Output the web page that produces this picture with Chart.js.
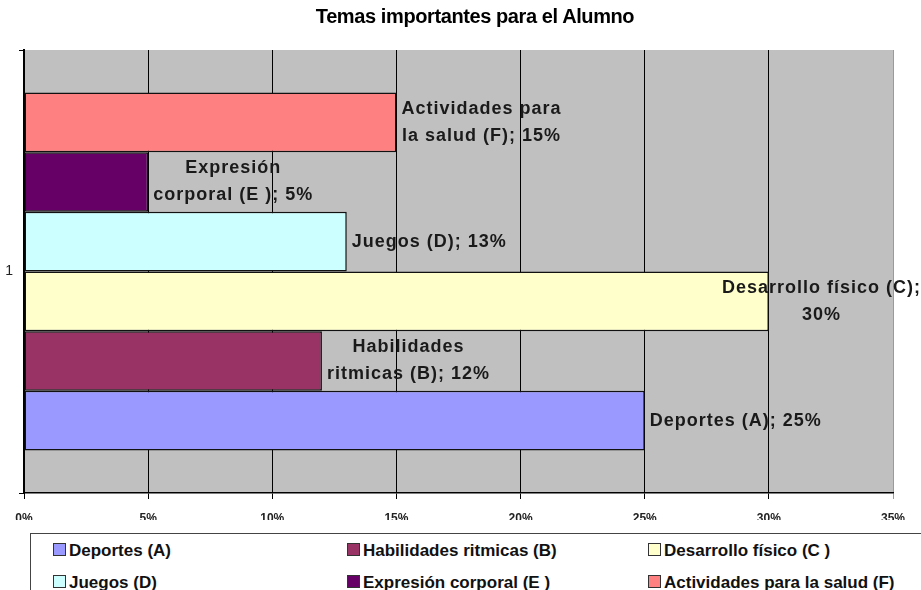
<!DOCTYPE html>
<html>
<head>
<meta charset="utf-8">
<script src="https://cdn.jsdelivr.net/npm/chart.js@4.4.0/dist/chart.umd.min.js"></script>
<style>
  html, body { margin: 0; padding: 0; background: #fff; overflow: hidden; }
  #wrap { position: relative; width: 921px; height: 590px; overflow: hidden; }
  #title { position: absolute; top: 5px; left: 0; width: 950px; text-align: center;
    font: bold 20px "Liberation Sans", Arial, sans-serif; color: #000; letter-spacing: -0.4px; }
  #legend { position: absolute; left: 30px; top: 533px; width: 950px; height: 80px;
    border: 1.5px solid #444; background: #fff; box-sizing: border-box; }
  .item { position: absolute; font: bold 17px "Liberation Sans", Arial, sans-serif; color: #111;
    white-space: nowrap; line-height: 20px; }
  .sw { display: inline-block; width: 11px; height: 11px; border: 1px solid #333;
    margin-right: 3px; vertical-align: 0px; }
</style>
</head>
<body>
<div id="wrap">
  <canvas id="chart" width="921" height="590"></canvas>
  <div id="title">Temas importantes para el Alumno</div>
  <div id="legend"></div>
</div>
<script>
const categories = ['1'];
const seriesNames = ['Deportes (A)', 'Habilidades ritmicas (B)', 'Desarrollo físico (C )',
  'Juegos (D)', 'Expresión corporal (E )', 'Actividades para la salud (F)'];
const seriesValues = [25, 12, 30, 13, 5, 15];
const seriesColors = ['#9999FF', '#993366', '#FFFFCC', '#CCFFFF', '#660066', '#FF8080'];
const barLabels = [
  ['Deportes (A); 25%'],
  ['Habilidades', 'ritmicas (B); 12%'],
  ['Desarrollo físico (C);', '30%'],
  ['Juegos (D); 13%'],
  ['Expresión', 'corporal (E ); 5%'],
  ['Actividades para', 'la salud (F); 15%']
];
const xTicks = { min: 0, max: 35, step: 5 };

// legend (3 columns, two rows, clipped by the page bottom like the original)
const legendEl = document.getElementById('legend');
const colX = [22, 316, 617];
const rowY = [7, 39];
seriesNames.forEach((name, i) => {
  const d = document.createElement('div');
  d.className = 'item';
  d.style.left = colX[i % 3] + 'px';
  d.style.top = rowY[Math.floor(i / 3)] + 'px';
  d.innerHTML = '<span class="sw" style="background:' + seriesColors[i] + '"></span>' + name;
  legendEl.appendChild(d);
});

// Chart.js places dataset 0 at the top of the band, the picture has A at the bottom
const order = seriesNames.map((_, i) => i).reverse();
const datasets = order.map(i => ({
  label: seriesNames[i],
  data: [seriesValues[i]],
  backgroundColor: seriesColors[i],
  borderColor: '#111',
  borderWidth: 1.5,
  borderSkipped: false,
  barPercentage: 1,
  categoryPercentage: 0.808,
  _lines: barLabels[i]
}));

const plotBg = {
  id: 'plotBg',
  beforeDraw(chart) {
    const { ctx, chartArea: a } = chart;
    ctx.save();
    ctx.fillStyle = '#C0C0C0';
    ctx.fillRect(a.left, a.top, a.right - a.left, a.bottom - a.top);
    ctx.restore();
  }
};

const valueLabels = {
  id: 'valueLabels',
  afterDatasetsDraw(chart) {
    const ctx = chart.ctx;
    ctx.save();
    ctx.font = 'bold 18px "Liberation Sans", Arial, sans-serif';
    ctx.letterSpacing = '1px';
    ctx.fillStyle = '#1a1a1a';
    ctx.textAlign = 'center';
    ctx.textBaseline = 'middle';
    const lh = 27;
    chart.data.datasets.forEach((ds, di) => {
      const bar = chart.getDatasetMeta(di).data[0];
      const lines = ds._lines;
      const w = Math.max(...lines.map(l => ctx.measureText(l).width));
      let left = bar.x + 5;
      if (left + w > chart.width) left = chart.width - w;
      const cx = left + w / 2;
      const y0 = bar.y - (lines.length - 1) * lh / 2;
      lines.forEach((l, k) => ctx.fillText(l, cx, y0 + k * lh));
    });
    ctx.restore();
  }
};

new Chart(document.getElementById('chart'), {
  type: 'bar',
  data: { labels: categories, datasets },
  options: {
    indexAxis: 'y',
    responsive: false,
    animation: false,
    layout: { padding: { left: 0, right: 28, top: 50, bottom: 70 } },
    plugins: { legend: { display: false }, title: { display: false }, tooltip: { enabled: false } },
    scales: {
      x: {
        min: xTicks.min,
        max: xTicks.max,
        afterFit(scale) { scale.height = 27; },
        ticks: {
          stepSize: xTicks.step,
          callback: v => v + '%',
          color: '#222',
          font: { family: '"Liberation Sans", Arial, sans-serif', size: 12, weight: 'bold' },
          padding: 12,
          maxRotation: 0
        },
        grid: {
          color: ctx => (ctx.tick && ctx.tick.value === 35) ? '#9a9a9a' : '#000',
          lineWidth: 1,
          tickLength: 6
        },
        border: { color: '#000', width: 1.5 }
      },
      y: {
        offset: true,
        afterFit(scale) { scale.width = 24; },
        ticks: {
          color: '#222',
          font: { family: '"Liberation Sans", Arial, sans-serif', size: 14 },
          padding: 6
        },
        grid: { drawOnChartArea: false, color: '#000', tickLength: 5 },
        border: { color: '#000', width: 2 }
      }
    }
  },
  plugins: [plotBg, valueLabels]
});
</script>
</body>
</html>
